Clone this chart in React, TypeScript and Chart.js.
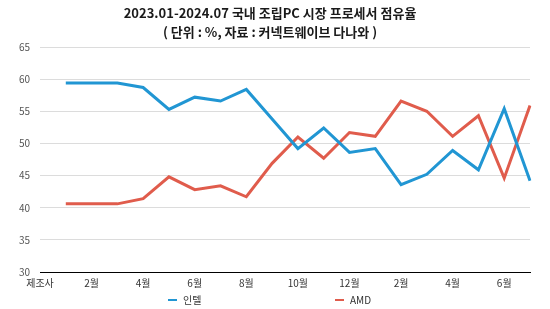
import React, { useEffect, useRef } from "react";
import { Chart, registerables } from "chart.js";

Chart.register(...registerables);

const TITLE = "2023.01-2024.07 국내 조립PC 시장 프로세서 점유율";
const SUBTITLE = "( 단위 : %, 자료 : 커넥트웨이브 다나와 )";

const categories = [
  "제조사",
  "1월", "2월", "3월", "4월", "5월", "6월", "7월", "8월", "9월", "10월", "11월", "12월",
  "1월", "2월", "3월", "4월", "5월", "6월", "7월",
];

const intelValues = [
  null, 59.4, 59.4, 59.4, 58.7, 55.3, 57.2, 56.6, 58.4, 53.8, 49.2, 52.4, 48.6,
  49.2, 43.6, 45.2, 48.9, 45.9, 55.4, 44.2,
];

const amdValues = [
  null, 40.6, 40.6, 40.6, 41.4, 44.8, 42.8, 43.4, 41.7, 46.9, 51.0, 47.7, 51.7,
  51.1, 56.6, 55.0, 51.1, 54.3, 44.6, 55.9,
];

const seriesNames = ["인텔", "AMD"];
const seriesColors = ["#2196d3", "#e05c4c"];

const FONT = '"Noto Sans CJK KR", "Noto Sans", sans-serif';

const textPlugin = {
  id: "customText",
  afterDraw(chart: any) {
    const ctx = chart.ctx as CanvasRenderingContext2D;
    ctx.save();
    ctx.fillStyle = "#1a1a1a";
    ctx.font = `bold 13px ${FONT}`;
    ctx.textAlign = "center";
    ctx.textBaseline = "middle";
    ctx.fillText(TITLE, 270, 13);
    ctx.fillText(SUBTITLE, 270, 32);

    // legend
    const legendY = 300;
    const starts = [168, 335];
    ctx.font = `10px ${FONT}`;
    ctx.textAlign = "left";
    chart.data.datasets.forEach((ds: any, i: number) => {
      const x = starts[i];
      ctx.strokeStyle = ds.borderColor;
      ctx.lineWidth = 2;
      ctx.beginPath();
      ctx.moveTo(x, legendY);
      ctx.lineTo(x + 9, legendY);
      ctx.stroke();
      ctx.fillStyle = "#333";
      ctx.fillText(ds.label, x + 15, legendY + 0.5);
    });
    ctx.restore();
  },
};

export default function App() {
  const ref = useRef<HTMLCanvasElement | null>(null);

  useEffect(() => {
    if (!ref.current) return;
    const chart = new Chart(ref.current, {
      type: "line",
      data: {
        labels: categories,
        datasets: [
          {
            label: seriesNames[0],
            data: intelValues,
            borderColor: seriesColors[0],
            backgroundColor: seriesColors[0],
            borderWidth: 3,
            pointRadius: 0,
            tension: 0,
          },
          {
            label: seriesNames[1],
            data: amdValues,
            borderColor: seriesColors[1],
            backgroundColor: seriesColors[1],
            borderWidth: 3,
            pointRadius: 0,
            tension: 0,
          },
        ],
      },
      options: {
        responsive: false,
        animation: false,
        layout: { padding: { top: 47, right: 20, left: 0, bottom: 0 } },
        plugins: {
          legend: { display: false },
          title: { display: false },
          tooltip: { enabled: false },
        },
        scales: {
          x: {
            offset: false,
            grid: { display: false, drawTicks: false },
            border: { display: true, color: "#000", width: 1 },
            ticks: {
              autoSkip: false,
              maxRotation: 0,
              padding: 5,
              color: "#333",
              font: { family: FONT, size: 10 },
              callback: (_v: any, i: number) => (i % 2 === 0 ? categories[i] : ""),
            },
            afterFit: (s: any) => {
              s.height = 37;
            },
          },
          y: {
            min: 30,
            max: 65,
            ticks: {
              stepSize: 5,
              padding: 10,
              color: "#555",
              font: { family: FONT, size: 10 },
            },
            grid: {
              drawTicks: false,
              color: (c: any) => (c.tick && c.tick.value === 30 ? "rgba(0,0,0,0)" : "#dcdcdc"),
              lineWidth: 1,
            },
            border: { display: false },
            afterFit: (s: any) => {
              s.width = 40;
            },
          },
        },
      },
      plugins: [textPlugin],
    });
    return () => chart.destroy();
  }, []);

  return (
    <div style={{ position: "fixed", left: 0, top: 0, width: 550, height: 309, background: "#fff" }}>
      <canvas ref={ref} width={550} height={309} style={{ width: 550, height: 309 }} />
    </div>
  );
}
